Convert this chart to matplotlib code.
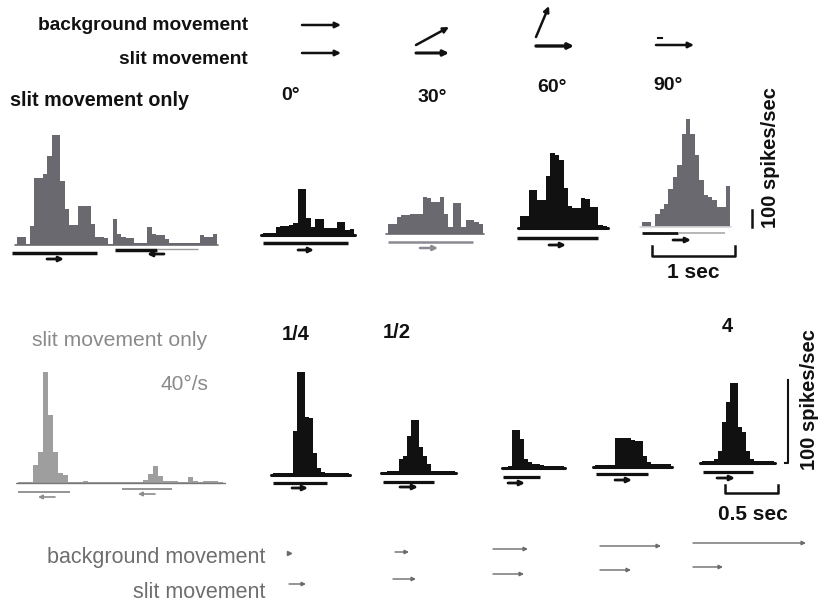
import matplotlib
matplotlib.use("Agg")
import matplotlib.pyplot as plt

W, H = 824, 607
BLACK = "#111111"
GREY = "#6a6970"
LGREY = "#9e9e9e"
TGREY = "#8a8a8a"

# ---------------- data (spikes/sec per bin) ----------------
top_only = [47, 47, 8, 112, 396, 396, 416, 523, 645, 645, 376, 210, 118, 118, 227, 227,
            227, 122, 47, 47, 43, 4, 151, 63, 47, 43, 39, 14, 14, 14, 106, 63, 59, 59,
            33, 14, 10, 10, 10, 10, 10, 10, 59, 49, 49, 63]
top_0 = [14, 14, 14, 49, 53, 53, 59, 73, 269, 269, 98, 49, 92, 92, 43, 39, 39, 78, 78, 29, 33]
top_30 = [59, 59, 98, 114, 114, 118, 118, 118, 216, 212, 186, 186, 220, 118, 40, 180, 180,
          40, 82, 82, 69, 59]
top_60 = [69, 69, 225, 225, 167, 167, 304, 441, 431, 402, 235, 127, 118, 118, 176, 171,
          122, 122, 20, 10]
top_90 = [29, 29, 4, 78, 108, 137, 225, 294, 363, 549, 637, 549, 421, 274, 186, 176, 157,
          118, 118, 239]

bot_only = [1, 1, 1, 22, 37, 134, 82, 37, 12, 10, 1, 1, 1, 2, 1, 1, 1, 1, 1, 1, 1, 1, 1,
            1, 1, 4, 11, 20, 9, 2, 2, 3, 1, 1, 7, 2, 1, 2, 3, 2, 1]
bot_quarter = [2, 2, 2, 2, 3, 53, 124, 124, 70, 69, 27, 9, 4, 3, 3, 3, 3, 3, 3]
bot_half = [1, 2, 2, 2, 17, 20, 44, 64, 64, 31, 21, 11, 3, 3, 3, 3, 3, 3]
bot_one = [1, 2, 46, 46, 35, 11, 7, 5, 5, 4, 3, 3, 3, 3, 3]
bot_two = [2, 2, 2, 2, 2, 35, 35, 35, 35, 33, 31, 31, 13, 6, 4, 4, 4, 4, 4]
bot_four = [2, 2, 2, 5, 14, 49, 73, 96, 96, 43, 37, 14, 5, 3, 2, 2, 2, 2]

angle_labels = ["0°", "30°", "60°", "90°"]
speed_labels = ["1/4", "1/2", "4"]
scale_label = "100 spikes/sec"

TOP_PX = 0.17   # px per spike/sec (top row)
BOT_PX = 0.83   # px per spike/sec (bottom row)

fig = plt.figure(figsize=(W / 100, H / 100), dpi=100)
fig.patch.set_facecolor("white")
ov = fig.add_axes([0, 0, 1, 1])
ov.set_xlim(0, W)
ov.set_ylim(H, 0)
ov.axis("off")


def hist(x0, x1, ybase, vals, pxu, color, base_color=None, base_lw=2.2):
    n = len(vals)
    top = max(vals) * pxu + 4
    pad = 3
    ax = fig.add_axes([x0 / W, (H - ybase - pad) / H, (x1 - x0) / W, (top + pad) / H])
    ax.set_xlim(0, n)
    ax.set_ylim(-pad / pxu, top / pxu)
    ax.stairs(vals, range(n + 1), fill=True, color=color, lw=0)
    ax.plot([-0.5, n + 0.3], [0, 0], color=base_color or color, lw=base_lw,
            solid_capstyle="round", clip_on=False)
    ax.axis("off")
    return ax


def line(x0, x1, y, color, lw=2.2):
    ov.plot([x0, x1], [y, y], color=color, lw=lw, solid_capstyle="butt")


def arrow(x0, y0, x1, y1, color, lw=2.0, ms=9):
    ov.annotate("", xy=(x1, y1), xytext=(x0, y0),
                arrowprops=dict(arrowstyle="-|>", color=color, lw=lw,
                                mutation_scale=ms, shrinkA=0, shrinkB=0))


# ---------------- header (top) ----------------
fb = dict(family="Liberation Sans", weight="bold", color=BLACK)
ov.text(248, 26, "background movement", ha="right", va="center", fontsize=13.8, **fb)
ov.text(248, 59, "slit movement", ha="right", va="center", fontsize=13.8, **fb)
ov.text(10, 100, "slit movement only", ha="left", va="center", fontsize=14.2, **fb)

arrow(302, 25, 341, 25, BLACK, lw=1.8, ms=8)
arrow(302, 53, 341, 53, BLACK, lw=1.8, ms=8)
arrow(416, 45, 449, 27, BLACK, lw=1.8, ms=8)
arrow(416, 53, 449, 53, BLACK, lw=2.2, ms=8)
arrow(536, 37, 549, 6, BLACK, lw=1.8, ms=8)
arrow(536, 46, 574, 46, BLACK, lw=2.4, ms=8)
ov.plot([658, 662], [38, 38], color=BLACK, lw=1.5)
arrow(656, 45, 694, 45, BLACK, lw=1.8, ms=8)

angle_x = [291, 432, 552, 668]
angle_y = [96, 97, 87, 86]
for lab, x, y in zip(angle_labels, angle_x, angle_y):
    ov.text(x, y, lab, ha="center", va="center", fontsize=14, **fb)

# ---------------- top histograms ----------------
hist(17, 217, 245, top_only, TOP_PX, GREY, base_color=GREY, base_lw=1.2)
hist(263, 354, 235, top_0, TOP_PX, BLACK)
hist(388, 483, 234, top_30, TOP_PX, GREY, base_color=GREY, base_lw=1.2)
hist(520, 607, 228, top_60, TOP_PX, BLACK)
hist(642, 730, 227, top_90, TOP_PX, GREY, base_color="#d8d8d8", base_lw=1.2)

# stimulus bars (top row)
line(12, 97, 253, BLACK, lw=2.5)
arrow(47, 259, 64, 259, BLACK, lw=2.0, ms=7)
line(115, 157, 250, BLACK, lw=2.5)
line(157, 198, 249, "#9a9a9a", lw=1.0)
arrow(164, 254, 147, 254, BLACK, lw=2.0, ms=7)
line(263, 348, 243, BLACK, lw=2.5)
arrow(298, 250, 314, 250, BLACK, lw=2.0, ms=7)
line(388, 473, 242, "#8a8a92", lw=1.8)
arrow(420, 248, 438, 248, "#8a8a92", lw=1.8, ms=7)
line(517, 598, 238, BLACK, lw=2.5)
arrow(549, 245, 566, 245, BLACK, lw=2.0, ms=7)
line(642, 678, 233, BLACK, lw=2.0)
line(678, 725, 233, "#aaaaaa", lw=1.2)
arrow(673, 240, 691, 240, BLACK, lw=2.0, ms=7)

# scale bars top
ov.plot([752, 752], [210, 227], color=BLACK, lw=1.8)
ov.text(771, 158, scale_label, rotation=90, ha="center", va="center", fontsize=14.5, **fb)
ov.plot([652, 652, 735, 735], [246, 256, 256, 246], color=BLACK, lw=1.8)
ov.text(693, 272, "1 sec", ha="center", va="center", fontsize=15, **fb)

# ---------------- bottom row ----------------
fr = dict(family="Liberation Sans", color=TGREY)
ov.text(32, 340, "slit movement only", ha="left", va="center", fontsize=15.2, **fr)
ov.text(208, 385, "40°/s", ha="right", va="center", fontsize=15, **fr)

hist(18, 223, 483, bot_only, BOT_PX, LGREY, base_color="#777777", base_lw=1.0)
hist(273, 349, 475, bot_quarter, BOT_PX, BLACK)
hist(383, 455, 473, bot_half, BOT_PX, BLACK)
hist(504, 564, 468, bot_one, BOT_PX, BLACK)
hist(595, 671, 467, bot_two, BOT_PX, BLACK)
hist(702, 774, 463, bot_four, BOT_PX, BLACK)

speed_x = [296, 397, 727]
speed_y = [335, 333, 326]
for lab, x, y in zip(speed_labels, speed_x, speed_y):
    ov.text(x, y, lab, ha="center", va="center", fontsize=14.5, **fb)

# stimulus bars (bottom row)
line(18, 70, 492, "#8c8c8c", lw=1.3)
arrow(55, 497, 38, 497, "#8c8c8c", lw=1.2, ms=6)
line(122, 172, 489, "#8c8c8c", lw=1.3)
arrow(155, 494, 138, 494, "#8c8c8c", lw=1.2, ms=6)
line(273, 327, 483, BLACK, lw=2.3)
arrow(292, 488, 308, 488, BLACK, lw=2.0, ms=7)
line(383, 434, 482, BLACK, lw=2.3)
arrow(400, 487, 418, 487, BLACK, lw=2.0, ms=7)
line(503, 540, 477, BLACK, lw=2.3)
arrow(508, 483, 525, 483, BLACK, lw=2.0, ms=7)
line(596, 648, 474, BLACK, lw=2.3)
arrow(615, 480, 632, 480, BLACK, lw=2.0, ms=7)
line(703, 753, 472, BLACK, lw=2.3)
arrow(717, 478, 735, 478, BLACK, lw=2.0, ms=7)

# scale bars bottom
ov.plot([785, 788, 788], [463, 463, 380], color=BLACK, lw=1.5)
ov.text(810, 400, scale_label, rotation=90, ha="center", va="center", fontsize=14.5, **fb)
ov.plot([725, 725, 778, 778], [485, 493, 493, 485], color=BLACK, lw=1.8)
ov.text(753, 515, "0.5 sec", ha="center", va="center", fontsize=15, **fb)

# ---------------- footer ----------------
ov.text(265, 557, "background movement", ha="right", va="center", fontsize=15.5,
        family="Liberation Sans", color="#6e6e6e")
ov.text(265, 592, "slit movement", ha="right", va="center", fontsize=15.5,
        family="Liberation Sans", color="#6e6e6e")
FG = "#6a6a6a"
ov.plot([289], [553], marker=">", ms=3, color=FG)
arrow(395, 552, 409, 552, FG, lw=1.0, ms=6)
arrow(493, 549, 528, 549, FG, lw=1.0, ms=6)
arrow(600, 546, 661, 546, FG, lw=1.0, ms=6)
arrow(693, 543, 806, 543, FG, lw=1.0, ms=6)
arrow(289, 584, 306, 584, FG, lw=1.0, ms=6)
arrow(393, 579, 416, 579, FG, lw=1.0, ms=6)
arrow(493, 574, 524, 574, FG, lw=1.0, ms=6)
arrow(600, 570, 631, 570, FG, lw=1.0, ms=6)
arrow(693, 567, 723, 567, FG, lw=1.0, ms=6)

fig.savefig("out.png", dpi=100, facecolor="white")
